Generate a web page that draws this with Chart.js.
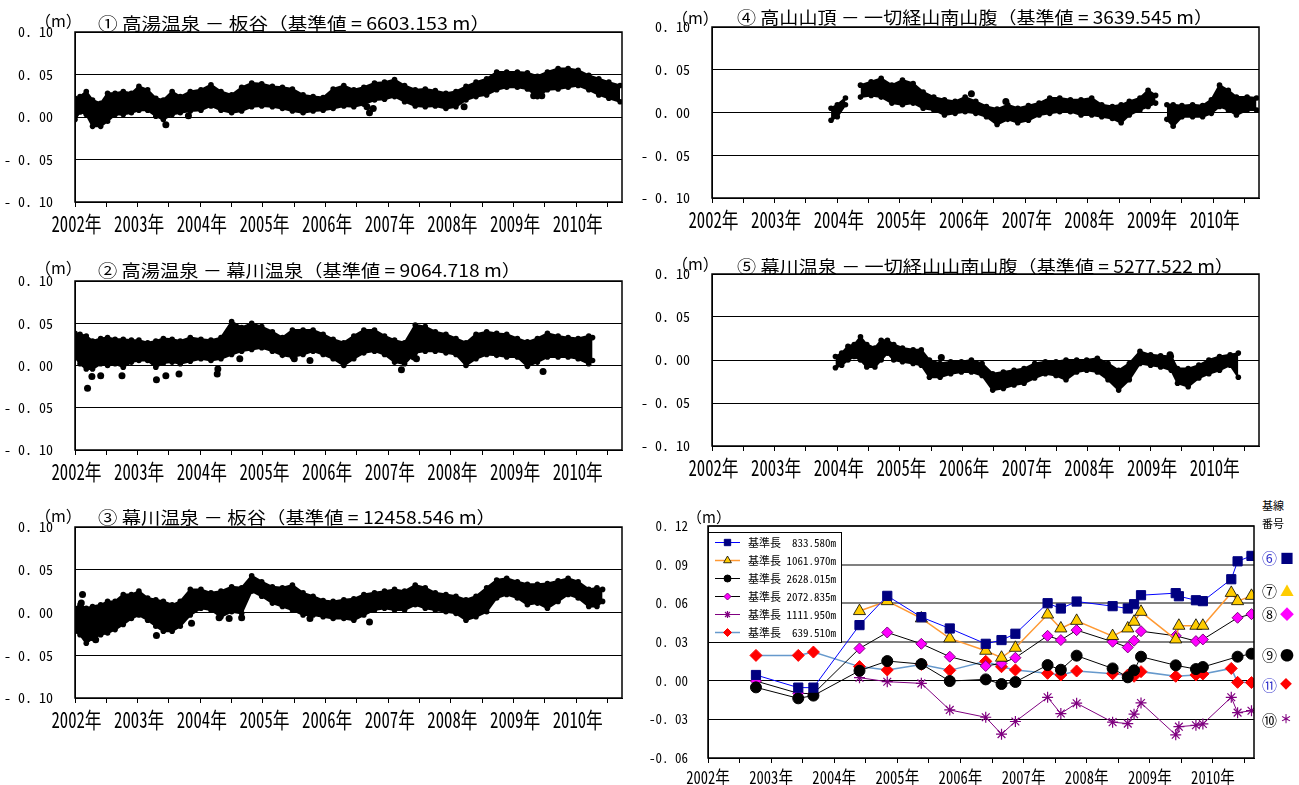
<!DOCTYPE html>
<html lang="ja">
<head>
<meta charset="utf-8">
<script src="https://cdn.jsdelivr.net/npm/chart.js@4.4.1/dist/chart.umd.min.js"></script>
<style>
html,body{margin:0;padding:0;background:#fff;}
#page{position:relative;width:1299px;height:785px;overflow:hidden;background:#fff;}
#page canvas{position:absolute;}
.t{position:absolute;white-space:nowrap;color:#000;font-family:'Noto Sans CJK JP',sans-serif;transform-origin:0 50%;}
</style>
</head>
<body>
<div id="page"></div>
<script>
// ---- axis ticks ----
const yearTicks = [2002,2002.5,2003,2003.5,2004,2004.5,2005,2005.5,2006,2006.5,2007,2007.5,2008,2008.5,2009,2009.5,2010,2010.5];
const yearNames = ['2002年','2003年','2004年','2005年','2006年','2007年','2008年','2009年','2010年'];
const dispTicks = [-0.10,-0.05,0,0.05,0.10];
const dispTickNames = ['- 0. 10','- 0. 05','0. 00','0. 05','0. 10'];
const lineTicks = [-0.06,-0.03,0,0.03,0.06,0.09,0.12];
const lineTickNames = ['-0. 06','-0. 03','0. 00','0. 03','0. 06','0. 09','0. 12'];

// ---- ① 高湯温泉 － 板谷 : daily solutions, upper / lower edge of the daily scatter ----
const t1 = [2002.00,2002.08,2002.18,2002.28,2002.41,2002.52,2002.64,2002.77,2002.90,2003.02,2003.16,2003.29,2003.41,2003.55,2003.68,2003.84,2004.01,2004.17,2004.33,2004.50,2004.66,2004.82,2004.98,2005.15,2005.31,2005.47,2005.64,2005.80,2005.96,2006.12,2006.29,2006.45,2006.61,2006.78,2006.94,2007.10,2007.26,2007.43,2007.59,2007.75,2007.92,2008.08,2008.24,2008.40,2008.57,2008.73,2008.89,2009.06,2009.22,2009.38,2009.54,2009.71,2009.87,2010.03,2010.20,2010.36,2010.52,2010.70];
const hi1 = [0.022,0.024,0.030,0.020,0.016,0.028,0.028,0.030,0.028,0.036,0.032,0.022,0.020,0.030,0.024,0.030,0.032,0.038,0.030,0.026,0.035,0.040,0.039,0.036,0.035,0.033,0.026,0.024,0.023,0.033,0.037,0.032,0.035,0.040,0.041,0.044,0.037,0.032,0.033,0.031,0.028,0.030,0.036,0.041,0.045,0.053,0.053,0.053,0.052,0.048,0.053,0.057,0.057,0.055,0.049,0.045,0.041,0.037];
const lo1 = [-0.003,0.006,0.003,-0.011,-0.011,-0.005,0.003,0.003,0.005,0.008,0.008,0.001,-0.003,0.003,0.005,0.007,0.008,0.013,0.008,0.005,0.007,0.012,0.013,0.012,0.010,0.007,0.005,0.007,0.008,0.010,0.013,0.012,0.015,0.020,0.021,0.024,0.018,0.013,0.012,0.013,0.010,0.012,0.020,0.024,0.026,0.032,0.035,0.035,0.033,0.024,0.032,0.033,0.035,0.037,0.032,0.026,0.022,0.018];
const out1t = [2003.45,2003.81,2006.66,2006.70,2006.76,2008.21,2009.32,2009.45];
const out1v = [-0.009,0.0015,0.012,0.005,0.010,0.012,0.025,0.025];

// ---- ② 高湯温泉 － 幕川温泉 ----
const t2 = [2002.00,2002.08,2002.18,2002.28,2002.41,2002.52,2002.64,2002.77,2002.90,2003.02,2003.16,2003.29,2003.41,2003.55,2003.68,2003.84,2004.01,2004.17,2004.33,2004.50,2004.66,2004.82,2004.98,2005.15,2005.31,2005.47,2005.64,2005.80,2005.96,2006.12,2006.29,2006.45,2006.61,2006.78,2006.94,2007.10,2007.26,2007.43,2007.59,2007.75,2007.92,2008.08,2008.24,2008.40,2008.57,2008.73,2008.89,2009.06,2009.22,2009.38,2009.54,2009.71,2009.87,2010.03,2010.20,2010.26];
const hi2 = [0.038,0.037,0.035,0.029,0.032,0.033,0.031,0.031,0.030,0.030,0.027,0.029,0.032,0.031,0.029,0.033,0.031,0.030,0.033,0.052,0.045,0.050,0.046,0.040,0.033,0.042,0.042,0.042,0.037,0.031,0.027,0.035,0.042,0.042,0.035,0.030,0.027,0.048,0.046,0.040,0.037,0.032,0.027,0.037,0.040,0.038,0.037,0.032,0.028,0.032,0.038,0.035,0.033,0.032,0.035,0.033];
const lo2 = [0.010,0.002,-0.004,-0.004,0.002,0.000,0.002,-0.002,0.004,0.006,0.006,-0.002,0.003,0.004,0.002,0.005,0.008,0.006,0.008,0.013,0.017,0.019,0.021,0.017,0.012,0.010,0.013,0.017,0.013,0.008,0.000,0.008,0.015,0.017,0.013,0.004,0.002,0.015,0.017,0.017,0.015,0.013,0.000,0.008,0.013,0.012,0.010,0.010,-0.001,0.004,0.010,0.010,0.010,0.008,0.002,0.006];
const out2t = [2002.20,2002.27,2002.41,2002.75,2003.30,2003.45,2003.66,2004.28,2004.27,2004.63,2005.50,2005.75,2007.21,2007.41,2007.45,2009.47];
const out2v = [-0.027,-0.013,-0.012,-0.012,-0.017,-0.012,-0.010,-0.004,-0.010,0.008,0.008,0.006,-0.005,0.010,0.008,-0.007];

// ---- ③ 幕川温泉 － 板谷 ----
const t3 = [2002.00,2002.08,2002.18,2002.28,2002.41,2002.52,2002.64,2002.77,2002.90,2003.02,2003.16,2003.29,2003.41,2003.55,2003.68,2003.84,2004.01,2004.17,2004.33,2004.50,2004.66,2004.82,2004.98,2005.15,2005.31,2005.47,2005.64,2005.80,2005.96,2006.12,2006.29,2006.45,2006.61,2006.78,2006.94,2007.10,2007.26,2007.43,2007.59,2007.75,2007.92,2008.08,2008.24,2008.40,2008.57,2008.73,2008.89,2009.06,2009.22,2009.38,2009.54,2009.71,2009.87,2010.03,2010.20,2010.33,2010.42];
const hi3 = [0.005,0.009,0.005,0.007,0.009,0.013,0.013,0.021,0.021,0.025,0.017,0.015,0.013,0.009,0.013,0.027,0.027,0.023,0.025,0.030,0.029,0.043,0.036,0.030,0.029,0.032,0.023,0.019,0.014,0.013,0.015,0.016,0.021,0.023,0.025,0.027,0.025,0.032,0.029,0.023,0.021,0.019,0.015,0.019,0.029,0.038,0.040,0.036,0.033,0.033,0.034,0.037,0.040,0.036,0.027,0.029,0.027];
const lo3 = [-0.022,-0.026,-0.036,-0.030,-0.026,-0.024,-0.020,-0.014,-0.007,-0.003,-0.009,-0.016,-0.022,-0.022,-0.016,-0.003,0.005,0.003,-0.005,0.001,-0.001,0.025,0.019,0.011,0.007,0.003,-0.003,-0.003,-0.005,-0.007,-0.007,-0.009,-0.003,0.003,0.005,0.003,0.003,0.009,0.005,0.003,0.001,-0.001,-0.009,-0.005,0.001,0.017,0.021,0.017,0.009,0.011,0.005,0.013,0.021,0.017,0.007,0.007,0.013];
const out3t = [2002.12,2002.10,2002.33,2003.30,2003.86,2004.30,2004.46,2004.66,2005.75,2006.70];
const out3v = [0.021,0.011,-0.032,-0.027,-0.0125,-0.006,-0.007,-0.006,-0.007,-0.011];

// ---- ④ 高山山頂 － 一切経山南山腹 ----
const t4 = [2003.90,2004.00,2004.13,2004.25,2004.37,2004.54,2004.70,2004.87,2005.04,2005.21,2005.37,2005.54,2005.71,2005.88,2006.04,2006.21,2006.38,2006.55,2006.72,2006.88,2007.05,2007.22,2007.39,2007.55,2007.72,2007.89,2008.06,2008.22,2008.39,2008.53,2008.66,2008.83,2008.96,2009.08,2009.17,2009.26,2009.36,2009.50,2009.67,2009.83,2009.97,2010.10,2010.24,2010.37,2010.54,2010.69];
const hi4 = [0.005,0.009,0.017,null,0.032,0.036,0.040,0.032,0.038,0.034,0.024,0.018,0.015,0.013,0.018,0.013,0.007,0.004,0.009,0.005,0.008,0.011,0.017,0.017,0.015,0.015,0.017,0.009,0.007,0.009,0.013,0.017,0.026,0.020,null,0.009,0.009,0.008,0.009,0.008,0.015,0.032,0.026,0.018,0.018,0.017];
const lo4 = [-0.009,-0.005,0.009,null,0.018,0.020,0.018,0.011,0.009,0.011,0.005,0.003,-0.003,-0.001,0.001,-0.001,-0.005,-0.014,-0.008,-0.012,-0.009,-0.003,-0.001,0.001,0.001,-0.003,-0.003,-0.005,-0.007,-0.012,-0.003,0.003,0.007,0.011,null,-0.008,-0.016,-0.005,-0.005,-0.005,-0.001,0.007,0.003,-0.003,0.003,0.003];
const out4t = [2006.14,2006.69];
const out4v = [0.022,0.013];

// ---- ⑤ 幕川温泉 － 一切経山山南山腹 ----
const t5 = [2003.97,2004.07,2004.17,2004.27,2004.37,2004.47,2004.60,2004.70,2004.80,2004.90,2005.04,2005.21,2005.34,2005.47,2005.64,2005.81,2005.98,2006.14,2006.31,2006.48,2006.65,2006.82,2006.98,2007.15,2007.32,2007.49,2007.65,2007.82,2007.98,2008.15,2008.32,2008.49,2008.66,2008.83,2009.00,2009.16,2009.33,2009.43,2009.60,2009.77,2009.93,2010.10,2010.27,2010.40];
const hi5 = [0.004,0.008,0.016,0.018,0.027,0.018,0.014,0.023,0.023,0.018,0.014,0.012,0.012,0.000,-0.004,-0.002,-0.002,0.000,-0.004,-0.016,-0.014,-0.012,-0.010,-0.004,-0.002,-0.002,0.000,0.000,0.000,0.002,-0.004,-0.012,-0.004,0.010,0.006,0.005,0.004,-0.010,-0.010,-0.006,0.000,0.004,0.006,0.008];
const lo5 = [-0.009,-0.006,0.000,0.004,0.000,-0.008,-0.008,0.000,0.008,0.000,-0.002,-0.004,-0.006,-0.020,-0.020,-0.016,-0.014,-0.014,-0.018,-0.035,-0.033,-0.029,-0.027,-0.021,-0.016,-0.018,-0.023,-0.014,-0.012,-0.014,-0.023,-0.035,-0.023,-0.004,-0.006,-0.008,-0.012,-0.027,-0.031,-0.021,-0.016,-0.012,-0.006,-0.020];
const out5t = [2005.66,2009.31];
const out5v = [0.003,0.006];

// ---- ⑥〜⑪ 短基線 (campaign surveys) ----
const surveyDates = [2002.76,2003.43,2003.67,2004.40,2004.84,2005.38,2005.83,2006.40,2006.65,2006.87,2007.38,2007.59,2007.84,2008.41,2008.65,2008.75,2008.86,2009.41,2009.46,2009.73,2009.84,2010.29,2010.39,2010.61];
const base833  = [0.0044,-0.0054,-0.0054,0.0431,0.0658,0.0493,0.0405,0.0286,0.0315,0.0364,0.0601,0.0560,0.0614,0.0578,0.0560,0.0593,0.0663,0.0679,0.0655,0.0624,0.0617,0.0787,0.0926,0.0968];
const base1061 = [null,null,null,0.0540,0.0617,0.0483,0.0328,0.0232,0.0178,0.0255,0.0513,0.0405,0.0464,0.0346,0.0405,0.0457,0.0534,0.0320,0.0426,0.0426,0.0426,0.0681,0.0617,0.0658];
const base2628 = [-0.0052,-0.0137,-0.0116,0.0077,0.0152,0.0129,-0.0003,0.0010,-0.0026,-0.0010,0.0121,0.0085,0.0194,0.0095,0.0026,0.0080,0.0186,0.0119,null,0.0090,0.0106,null,0.0186,0.0209];
const base2072 = [-0.0003,-0.0098,-0.0101,0.0250,0.0374,0.0286,0.0186,0.0114,0.0134,0.0178,0.0348,0.0315,0.0392,0.0302,0.0258,0.0310,0.0384,0.0348,null,0.0307,0.0320,null,0.0488,0.0516];
const base1111 = [null,null,null,0.0023,-0.0008,-0.0021,-0.0227,-0.0284,-0.0415,-0.0317,-0.0129,-0.0255,-0.0175,-0.0322,-0.0333,-0.0260,-0.0173,-0.0420,-0.0357,-0.0346,-0.0336,-0.0129,-0.0248,-0.0233];
const base639  = [0.0196,0.0196,0.0222,0.0109,0.0083,0.0126,0.0080,0.0150,0.0108,0.0083,0.0057,0.0044,0.0075,0.0054,0.0044,0.0034,0.0070,0.0034,null,0.0044,0.0052,0.0095,-0.0013,-0.0015];
const baseLengths = ['833.580m','1061.970m','2628.015m','2072.835m','1111.950m','639.510m'];
const baseNumbers = ['⑥','⑦','⑧','⑨','⑪','⑩'];

// ---- titles ----
const titleTexts = [
  '① 高湯温泉 － 板谷（基準値 = 6603.153 m）',
  '② 高湯温泉 － 幕川温泉（基準値 = 9064.718 m）',
  '③ 幕川温泉 － 板谷（基準値 = 12458.546 m）',
  '④ 高山山頂 － 一切経山南山腹（基準値 = 3639.545 m）',
  '⑤ 幕川温泉 － 一切経山山南山腹（基準値 = 5277.522 m）'
];
const unitText = '（m）';

// ================= drawing =================
const FONT_CJK = "'Noto Sans CJK JP', sans-serif";
const FONT_NUM = "'Noto Sans Mono CJK JP', 'Noto Sans CJK JP', 'DejaVu Sans Mono', monospace";
Chart.defaults.font.family = FONT_NUM;
Chart.defaults.color = '#000';
Chart.defaults.animation = false;

const page = document.getElementById('page');

const framePlugin = {
  id: 'frame',
  afterDatasetsDraw(chart) {
    const {ctx, chartArea: a} = chart;
    ctx.save();
    ctx.strokeStyle = '#000';
    ctx.lineWidth = 1.5;
    ctx.strokeRect(a.left, a.top, a.right - a.left, a.bottom - a.top);
    ctx.restore();
  }
};

// year labels under the time axis, set in a tall narrow face
const yearLabelPlugin = {
  id: 'yearLabels',
  afterDraw(chart, args, o) {
    const s = chart.scales.x, ctx = chart.ctx;
    ctx.save();
    ctx.font = o.size + 'px ' + FONT_NUM;
    ctx.fillStyle = '#000';
    ctx.textAlign = 'center';
    ctx.textBaseline = 'middle';
    yearTicks.filter(v => Number.isInteger(v)).forEach(v => {
      ctx.save();
      ctx.translate(s.getPixelForValue(v) + o.dx, s.top + o.offset);
      ctx.scale(o.sx, 1);
      ctx.fillText(yearNames[v - 2002], 0, 0);
      ctx.restore();
    });
    ctx.restore();
  }
};

function addText(text, x, cy, size, opts = {}) {
  const d = document.createElement('div');
  d.className = 't';
  d.textContent = text;
  d.style.fontSize = size + 'px';
  d.style.lineHeight = size + 'px';
  d.style.left = x + 'px';
  d.style.top = (cy - size / 2) + 'px';
  if (opts.color) d.style.color = opts.color;
  if (opts.weight) d.style.fontWeight = opts.weight;
  page.appendChild(d);
  if (opts.w) {
    const r = d.getBoundingClientRect().width;
    d.style.transform = 'scaleX(' + (opts.w / r) + ')';
  }
  return d;
}

function makeCanvas(p) {
  const cv = document.createElement('canvas');
  cv.width = p.cw; cv.height = p.ch;
  cv.style.left = p.cx + 'px'; cv.style.top = p.cy + 'px';
  page.appendChild(cv);
  return cv;
}

const pts = (t, v) => t.map((x, i) => ({x, y: v[i]}));

function xAxis(p, xMax) {
  return {
    type: 'linear', min: 2002, max: xMax,
    afterBuildTicks: s => { s.ticks = yearTicks.map(v => ({value: v})); },
    afterFit: s => { s.height = p.cy + p.ch - p.B; s.paddingLeft = 0; s.paddingRight = 0; },
    grid: {drawOnChartArea: false, drawTicks: true, tickLength: 5, color: '#000', lineWidth: 1},
    border: {display: true, color: '#000', width: 1},
    ticks: {display: false, autoSkip: false, maxRotation: 0, minRotation: 0}
  };
}

function yAxis(p, vals, names, size, pad, grid) {
  return {
    type: 'linear', min: vals[0], max: vals[vals.length - 1],
    afterBuildTicks: s => { s.ticks = vals.map(v => ({value: v})); },
    afterFit: s => { s.width = p.L - p.cx; s.paddingTop = 0; s.paddingBottom = 0; },
    grid: Object.assign({drawTicks: false}, grid),
    border: {display: true, color: '#000', width: 1},
    ticks: {padding: pad, color: '#000', font: {family: FONT_NUM, size},
      callback: (v, i) => names[i]}
  };
}

// daily-solution panels
const panels = [
  {cx: 0,   cy: 20,  cw: 640, ch: 225, L: 75,  T: 32,  R: 622,  B: 202, t: t1, hi: hi1, lo: lo1, ot: out1t, ov: out1v, title: 0, tx: 98,  tcy: 22.5, tw: 392, ux: 35,  ucy: 20},
  {cx: 0,   cy: 269, cw: 640, ch: 225, L: 75,  T: 281, R: 622,  B: 450, t: t2, hi: hi2, lo: lo2, ot: out2t, ov: out2v, title: 1, tx: 98,  tcy: 269,  tw: 423, ux: 35,  ucy: 267},
  {cx: 0,   cy: 515, cw: 640, ch: 225, L: 75,  T: 527, R: 622,  B: 698, t: t3, hi: hi3, lo: lo3, ot: out3t, ov: out3v, title: 2, tx: 98,  tcy: 516.5,tw: 398, ux: 35,  ucy: 515},
  {cx: 640, cy: 15,  cw: 659, ch: 225, L: 712, T: 27,  R: 1259, B: 198, t: t4, hi: hi4, lo: lo4, ot: out4t, ov: out4v, title: 3, tx: 737, tcy: 16.5, tw: 476, ux: 672, ucy: 17},
  {cx: 640, cy: 262, cw: 659, ch: 225, L: 712, T: 274, R: 1259, B: 446, t: t5, hi: hi5, lo: lo5, ot: out5t, ov: out5v, title: 4, tx: 737, tcy: 265,  tw: 497, ux: 672, ucy: 263}
];

panels.forEach(p => {
  const cv = makeCanvas(p);
  const edge = {borderColor: '#000', borderWidth: 2, pointRadius: 2.8, pointBackgroundColor: '#000',
    pointBorderWidth: 0, pointHoverRadius: 0, tension: 0, spanGaps: false};
  new Chart(cv, {
    type: 'line',
    data: {datasets: [
      Object.assign({data: pts(p.t, p.hi), fill: false}, edge),
      Object.assign({data: pts(p.t, p.lo), fill: '-1', backgroundColor: '#000'}, edge),
      {data: pts(p.ot, p.ov), showLine: false, pointRadius: 3.5, pointBackgroundColor: '#000', pointBorderWidth: 0}
    ]},
    options: {
      responsive: false, animation: false, events: [],
      layout: {padding: {left: 0, top: p.T - p.cy, right: p.cx + p.cw - p.R, bottom: 0}},
      plugins: {legend: {display: false}, tooltip: {enabled: false},
        yearLabels: {size: 22, sx: 0.76, offset: 22, dx: 1.5}},
      scales: {
        x: xAxis(p, 2010.73),
        y: yAxis(p, dispTicks, dispTickNames, 14, 22, {color: '#000', lineWidth: 1})
      }
    },
    plugins: [framePlugin, yearLabelPlugin]
  });
  addText(unitText, p.ux, p.ucy, 16);
  addText(titleTexts[p.title], p.tx, p.tcy, 17, {w: p.tw});
});

// short-baseline panel
const p6 = {cx: 640, cy: 514, cw: 659, ch: 271, L: 708, T: 526, R: 1254, B: 758};

function drawMark(ctx, style, x, y, r, fill, stroke, lw) {
  ctx.beginPath();
  if (style === 'rect') { const s = r * Math.SQRT1_2; ctx.rect(x - s, y - s, 2 * s, 2 * s); }
  else if (style === 'circle') { ctx.arc(x, y, r, 0, 2 * Math.PI); }
  else if (style === 'triangle') { ctx.moveTo(x, y - r); ctx.lineTo(x + r * 0.866, y + r * 0.5); ctx.lineTo(x - r * 0.866, y + r * 0.5); ctx.closePath(); }
  else if (style === 'rectRot') { ctx.moveTo(x, y - r); ctx.lineTo(x + r, y); ctx.lineTo(x, y + r); ctx.lineTo(x - r, y); ctx.closePath(); }
  else if (style === 'star') {
    for (let k = 0; k < 4; k++) { const a = k * Math.PI / 4; ctx.moveTo(x - r * Math.cos(a), y - r * Math.sin(a)); ctx.lineTo(x + r * Math.cos(a), y + r * Math.sin(a)); }
  }
  if (style !== 'star' && fill) { ctx.fillStyle = fill; ctx.fill(); }
  if (lw) { ctx.strokeStyle = stroke; ctx.lineWidth = lw; ctx.stroke(); }
}

const legendBoxPlugin = {
  id: 'legendBox',
  afterDatasetsDraw(chart) {
    const {ctx, chartArea: a} = chart;
    const x0 = a.left, y0 = a.top + 6, w = 133, h = 110;
    ctx.save();
    ctx.fillStyle = '#fff';
    ctx.fillRect(x0, y0, w, h);
    ctx.strokeStyle = '#000'; ctx.lineWidth = 1;
    ctx.strokeRect(x0 + 0.5, y0 + 0.5, w, h);
    chart.data.datasets.forEach((ds, i) => {
      const y = y0 + 10.5 + i * 18;
      ctx.strokeStyle = ds.borderColor; ctx.lineWidth = ds.borderWidth;
      ctx.beginPath(); ctx.moveTo(x0 + 7, y); ctx.lineTo(x0 + 32, y); ctx.stroke();
      drawMark(ctx, ds.pointStyle, x0 + 19.5, y, ds.legendRadius, ds.pointBackgroundColor, ds.pointBorderColor, ds.pointBorderWidth);
      ctx.fillStyle = '#000';
      ctx.textBaseline = 'middle';
      ctx.font = '11px ' + FONT_CJK;
      ctx.textAlign = 'left';
      ctx.fillText('基準長', x0 + 40, y);
      ctx.font = '11px ' + FONT_NUM;
      ctx.textAlign = 'right';
      ctx.fillText(baseLengths[i], x0 + 128, y);
    });
    ctx.restore();
  }
};

const seriesStyles = [
  {values: base833,  borderColor: '#0000FF', borderWidth: 1,   pointStyle: 'rect',     pointRadius: 6.5, pointBackgroundColor: '#000080', pointBorderColor: '#000080', pointBorderWidth: 1,   legendRadius: 4.5},
  {values: base1061, borderColor: '#FF9933', borderWidth: 1.5, pointStyle: 'triangle', pointRadius: 7,   pointBackgroundColor: '#FFCC00', pointBorderColor: '#000',    pointBorderWidth: 0.8, legendRadius: 4.5},
  {values: base2628, borderColor: '#000',    borderWidth: 1,   pointStyle: 'circle',   pointRadius: 5.5, pointBackgroundColor: '#000',    pointBorderColor: '#000',    pointBorderWidth: 1,   legendRadius: 3.5},
  {values: base2072, borderColor: '#000',    borderWidth: 1,   pointStyle: 'rectRot',  pointRadius: 5.5, pointBackgroundColor: '#FF00FF', pointBorderColor: '#800080', pointBorderWidth: 1,   legendRadius: 3.5},
  {values: base1111, borderColor: '#800080', borderWidth: 1,   pointStyle: 'star',     pointRadius: 5.5, pointBackgroundColor: '#800080', pointBorderColor: '#800080', pointBorderWidth: 1.2, legendRadius: 3.5},
  {values: base639,  borderColor: '#6699CC', borderWidth: 1.5, pointStyle: 'rectRot',  pointRadius: 6,   pointBackgroundColor: '#FF0000', pointBorderColor: '#FF0000', pointBorderWidth: 1,   legendRadius: 4}
];

// a missed survey longer than half a year leaves the line open
const openGap = c => (c.p1DataIndex - c.p0DataIndex > 1 && c.p1.parsed.x - c.p0.parsed.x > 0.5) ? 'rgba(0,0,0,0)' : undefined;

const cv6 = makeCanvas(p6);
new Chart(cv6, {
  type: 'line',
  data: {datasets: seriesStyles.map((s, i) => ({
    label: '基準長 ' + baseLengths[i],
    data: pts(surveyDates, s.values),
    borderColor: s.borderColor, borderWidth: s.borderWidth,
    pointStyle: s.pointStyle, pointRadius: s.pointRadius, pointHoverRadius: s.pointRadius,
    pointBackgroundColor: s.pointBackgroundColor, pointBorderColor: s.pointBorderColor,
    pointBorderWidth: s.pointBorderWidth, legendRadius: s.legendRadius,
    fill: false, tension: 0, spanGaps: true,
    segment: {borderColor: openGap}
  }))},
  options: {
    responsive: false, animation: false, events: [],
    layout: {padding: {left: 0, top: p6.T - p6.cy, right: p6.cx + p6.cw - p6.R, bottom: 0}},
    plugins: {legend: {display: false}, tooltip: {enabled: false},
      yearLabels: {size: 18, sx: 0.81, offset: 19, dx: 0}},
    scales: {
      x: xAxis(p6, 2010.65),
      y: yAxis(p6, lineTicks, lineTickNames, 13, 20, {
        color: c => (c.tick && c.tick.value > 0.001) ? '#808080' : '#000',
        lineWidth: c => (c.tick && c.tick.value > 0.001) ? 2 : 1
      })
    }
  },
  plugins: [legendBoxPlugin, framePlugin, yearLabelPlugin]
});
addText(unitText, 687, 516.5, 15);

// baseline number key at the right edge
addText('基線', 1262, 505, 11);
addText('番号', 1262, 523, 11);
const keyMarks = [
  {sym: '■', numColor: '#3333CC', symColor: '#000080', cy: 557, size: 14},
  {sym: '▲', numColor: '#000',    symColor: '#FFCC00', cy: 590, size: 14},
  {sym: '◆', numColor: '#000',    symColor: '#FF00FF', cy: 613, size: 14},
  {sym: '●', numColor: '#000',    symColor: '#000',    cy: 654, size: 14},
  {sym: '◆', numColor: '#3333CC', symColor: '#FF0000', cy: 684, size: 12},
  {sym: '＊', numColor: '#000',    symColor: '#800080', cy: 719, size: 12}
];
keyMarks.forEach((k, i) => {
  addText(baseNumbers[i], 1262, k.cy, 15, {color: k.numColor});
  addText(k.sym, 1280, k.cy, k.size, {color: k.symColor, weight: 'bold'});
});
</script>
</body>
</html>
